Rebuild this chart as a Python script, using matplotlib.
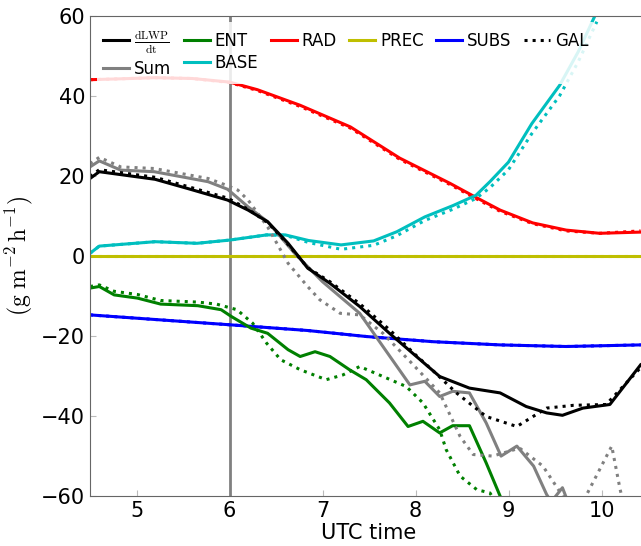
import matplotlib
matplotlib.use('Agg')
import matplotlib.pyplot as plt
import numpy as np

plt.rcParams['mathtext.fontset'] = 'cm'

# dLWP/dt
t_dlwp = [4.5, 4.6, 5.2, 5.55, 5.98, 6.2, 6.41, 6.63, 6.76, 6.84, 7.08, 7.4, 7.72, 8.01, 8.26, 8.58, 8.91, 9.19, 9.41, 9.58, 9.8, 10.09, 10.42]
dlwp = [19.3, 21.0, 19.1, 16.8, 13.9, 11.4, 8.5, 3.1, -0.7, -3.1, -6.9, -12.7, -19.4, -25.2, -30.2, -33.1, -34.3, -37.7, -39.3, -39.9, -38.1, -37.2, -27.3]
t_dlwp_gal = [4.5, 4.6, 5.2, 5.55, 5.98, 6.2, 6.41, 6.63, 6.84, 7.08, 7.4, 7.72, 8.01, 8.2, 8.44, 8.76, 9.09, 9.41, 9.7, 10.05, 10.42]
dlwp_gal = [19.8, 21.5, 19.6, 17.3, 14.4, 11.6, 8.3, 2.8, -3.0, -6.5, -12.0, -18.5, -25.0, -29.0, -34.3, -40.2, -42.7, -38.1, -37.4, -37.2, -28.0]

# Sum of terms
t_sum = [4.5, 4.6, 4.83, 5.19, 5.77, 5.98, 6.2, 6.41, 6.7, 7.0, 7.4, 7.65, 7.94, 8.1, 8.26, 8.4, 8.58, 8.76, 8.92, 9.09, 9.27, 9.41, 9.46, 9.58, 9.68]
sum_ = [22.2, 23.7, 21.4, 21.0, 18.5, 16.6, 12.2, 8.5, 0.6, -6.5, -14.4, -22.7, -32.3, -31.4, -35.2, -33.9, -34.3, -41.8, -50.1, -47.6, -52.6, -59.7, -61.5, -58.0, -64.0]
t_sum_gal = [4.5, 4.6, 4.83, 5.19, 5.77, 5.98, 6.09, 6.2, 6.41, 6.63, 6.84, 6.97, 7.19, 7.4, 7.65, 7.94, 8.26, 8.48, 8.62, 8.83, 9.12, 9.37, 9.58, 9.7, 9.87, 10.11, 10.2, 10.3]
sum_gal = [23.0, 24.6, 22.2, 21.8, 19.3, 17.5, 16.4, 13.9, 7.2, -1.9, -7.7, -11.0, -14.4, -14.8, -19.4, -26.4, -34.3, -45.2, -49.7, -50.1, -48.1, -52.6, -60.0, -66.0, -58.4, -47.6, -58.4, -68.0]

# entrainment
t_ent = [4.5, 4.6, 4.76, 5.01, 5.26, 5.66, 5.91, 6.02, 6.23, 6.41, 6.63, 6.76, 6.92, 7.08, 7.29, 7.47, 7.72, 7.92, 8.08, 8.26, 8.4, 8.58, 8.76, 8.91, 9.0]
ent = [-8.1, -7.7, -9.8, -10.6, -12.1, -12.5, -13.5, -15.2, -18.1, -19.4, -23.5, -25.2, -24.0, -25.2, -28.5, -31.0, -36.8, -42.7, -41.4, -44.3, -42.5, -42.5, -51.8, -60.1, -65.0]
t_ent_gal = [4.5, 4.6, 4.76, 5.01, 5.26, 5.66, 5.86, 6.08, 6.25, 6.4, 6.55, 6.76, 7.04, 7.22, 7.4, 7.65, 7.9, 8.08, 8.26, 8.33, 8.48, 8.66, 8.8, 8.9]
ent_gal = [-7.7, -7.3, -8.9, -9.7, -11.2, -11.6, -12.1, -13.5, -16.9, -21.9, -26.0, -28.5, -31.0, -29.8, -27.7, -30.2, -32.7, -36.8, -43.5, -48.5, -55.1, -58.5, -59.3, -63.0]

# radiation
t_rad = [4.5, 4.8, 5.2, 5.6, 6.0, 6.3, 6.76, 7.3, 7.83, 8.37, 8.64, 8.91, 9.26, 9.62, 9.98, 10.42]
rad = [44.0, 44.2, 44.5, 44.3, 43.4, 41.5, 37.6, 32.2, 24.4, 18.1, 14.7, 11.4, 8.2, 6.4, 5.6, 5.9]
rad_gal = [44.0, 44.2, 44.5, 44.3, 43.3, 41.3, 37.3, 31.9, 24.1, 17.8, 14.4, 11.1, 8.0, 6.2, 5.6, 6.2]

# cloud base flux
t_base = [4.5, 4.6, 5.2, 5.65, 6.0, 6.4, 6.6, 6.85, 7.2, 7.55, 7.8, 8.1, 8.4, 8.65, 8.8, 9.0, 9.25, 9.55, 9.75, 9.95]
base = [0.6, 2.4, 3.5, 3.1, 3.9, 5.2, 5.2, 3.8, 2.7, 3.7, 6.0, 9.7, 12.5, 15.1, 18.5, 23.4, 33.0, 42.6, 51.0, 61.0]
base_gal = [0.6, 2.4, 3.5, 3.1, 3.9, 5.2, 5.1, 3.3, 1.6, 2.6, 5.0, 8.8, 11.6, 14.3, 17.0, 21.5, 30.5, 40.0, 48.5, 58.5]

# precipitation and subsidence
t_prec = [4.5, 10.5]
prec = [0.0, 0.0]
t_subs = [4.5, 6.02, 6.84, 7.47, 8.19, 8.91, 9.62, 10.42]
subs = [-14.8, -17.3, -18.7, -20.2, -21.5, -22.3, -22.7, -22.3]

fig = plt.figure(figsize=(6.41, 5.46), dpi=100)
ax = fig.add_axes([90 / 641, 50.3 / 546, 558 / 641, 480 / 546])

lw = 2.2
ax.axvline(6, color='gray', lw=2)
ax.plot(t_prec, prec, color='y', lw=lw)
ax.plot(t_prec, prec, color='y', lw=lw, ls=':')
ax.plot(t_subs, subs, color='b', lw=lw)
ax.plot(t_subs, subs, color='b', lw=lw, ls=':')
ax.plot(t_rad, rad, color='r', lw=lw)
ax.plot(t_rad, rad_gal, color='r', lw=lw, ls=':')
ax.plot(t_base, base, color='c', lw=lw)
ax.plot(t_base, base_gal, color='c', lw=lw, ls=':')
ax.plot(t_ent, ent, color='g', lw=lw)
ax.plot(t_ent_gal, ent_gal, color='g', lw=lw, ls=':')
ax.plot(t_sum, sum_, color='gray', lw=lw)
ax.plot(t_sum_gal, sum_gal, color='gray', lw=lw, ls=':')
ax.plot(t_dlwp, dlwp, color='k', lw=lw)
ax.plot(t_dlwp_gal, dlwp_gal, color='k', lw=lw, ls=':')

handles = [
    plt.Line2D([], [], color='k', lw=lw),
    plt.Line2D([], [], color='gray', lw=lw),
    plt.Line2D([], [], color='g', lw=lw),
    plt.Line2D([], [], color='c', lw=lw),
    plt.Line2D([], [], color='r', lw=lw),
    plt.Line2D([], [], color='y', lw=lw),
    plt.Line2D([], [], color='b', lw=lw),
    plt.Line2D([], [], color='k', lw=lw, ls=':'),
]
labels = [r'$\frac{\mathrm{dLWP}}{\mathrm{dt}}$', 'Sum', 'ENT', 'BASE', 'RAD', 'PREC', 'SUBS', 'GAL']
leg = ax.legend(handles, labels, loc='upper left', ncol=6, fontsize=12,
                handlelength=1.55, handletextpad=0.3, columnspacing=0.75,
                labelspacing=0.2, borderaxespad=0.4, framealpha=0.85)
leg.get_frame().set_edgecolor('none')

ax.set_xlim(4.5, 10.5)
ax.set_ylim(-60, 60)
ax.set_xticks([5, 6, 7, 8, 9, 10])
ax.set_yticks([-60, -40, -20, 0, 20, 40, 60])
ax.tick_params(labelsize=15, direction='in', length=4, color='#bbbbbb')
for s in ax.spines.values():
    s.set_color('#666666')
ax.set_xlabel('UTC time', fontsize=15, labelpad=2)
ax.set_ylabel(r'$(\mathrm{g\ m^{-2}\,h^{-1}})$', fontsize=17)

fig.savefig('out.png', dpi=100)
